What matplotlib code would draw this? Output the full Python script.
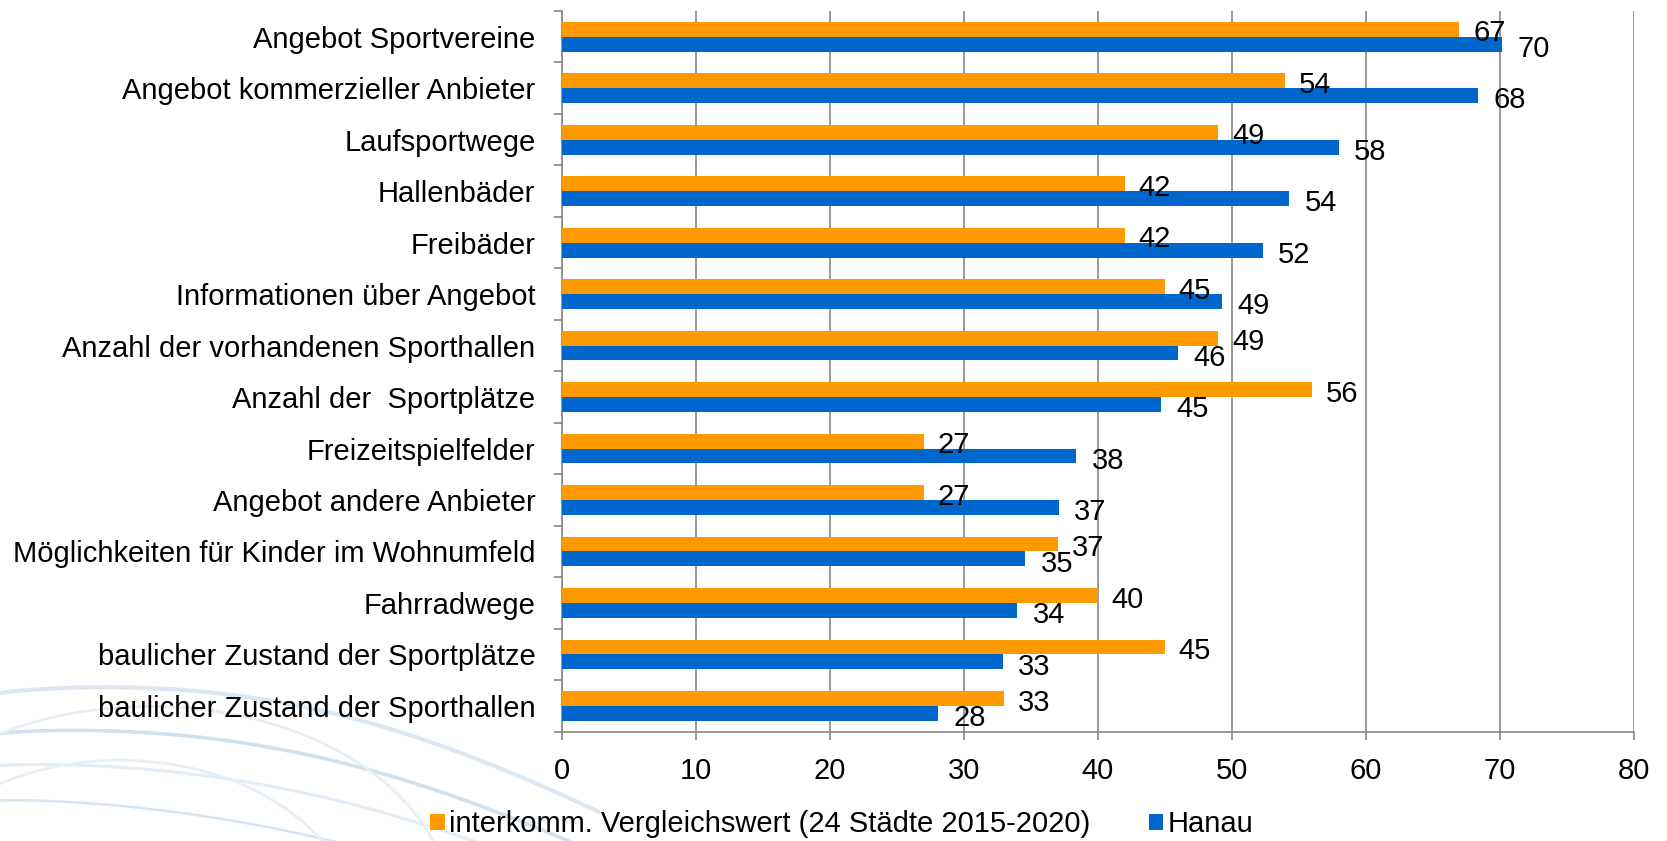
import numpy as np
import matplotlib.pyplot as plt

# Data
categories = [
    "Angebot Sportvereine",
    "Angebot kommerzieller Anbieter",
    "Laufsportwege",
    "Hallenbäder",
    "Freibäder",
    "Informationen über Angebot",
    "Anzahl der vorhandenen Sporthallen",
    "Anzahl der  Sportplätze",
    "Freizeitspielfelder",
    "Angebot andere Anbieter",
    "Möglichkeiten für Kinder im Wohnumfeld",
    "Fahrradwege",
    "baulicher Zustand der Sportplätze",
    "baulicher Zustand der Sporthallen",
]
vergleich = [67, 54, 49, 42, 42, 45, 49, 56, 27, 27, 37, 40, 45, 33]
hanau = [70.2, 68.4, 58, 54.3, 52.3, 49.3, 46, 44.7, 38.4, 37.1, 34.6, 34, 32.9, 28.1]
xticks = [0, 10, 20, 30, 40, 50, 60, 70, 80]
label_vergleich = "interkomm. Vergleichswert (24 Städte 2015-2020)"
label_hanau = "Hanau"

orange = "#FF9900"
blue = "#0066CC"

plt.rcParams["font.family"] = ["Liberation Sans", "DejaVu Sans"]
fs = 21

fig = plt.figure(figsize=(16.67, 8.41), dpi=100)

# faint decorative swooshes in the lower left corner
deco = fig.add_axes([0, 0, 0.36, 0.32], zorder=0)
deco.set_xlim(0, 1)
deco.set_ylim(0, 1)
deco.axis("off")
t = np.linspace(0, 1, 200)
for k, (a, c) in enumerate([(0.55, "#dbe8f3"), (0.45, "#cfe0ef"), (0.38, "#e3edf6"), (0.30, "#d6e5f1")]):
    x = t * 1.1
    y = a - 0.25 * k * 0.2 - 0.55 * t ** 1.3 + 0.25 * np.sin(np.pi * t) * (0.6 - 0.1 * k)
    deco.plot(x, y, color=c, lw=3 - 0.4 * k, solid_capstyle="round")
arc_t = np.linspace(0.2, 3.0, 200)
deco.plot(0.25 + 0.5 * np.cos(arc_t), -0.25 + 0.75 * np.sin(arc_t), color="#e6eff7", lw=2)
deco.plot(0.2 + 0.4 * np.cos(arc_t), -0.35 + 0.65 * np.sin(arc_t), color="#e6eff7", lw=2)

ax = fig.add_axes([0.337, 0.130, 0.643, 0.857], zorder=1)
ax.patch.set_alpha(0)

y = np.arange(len(categories))
h = 0.29
ax.barh(y - h / 2, vergleich, height=h, color=orange, label=label_vergleich, zorder=3)
ax.barh(y + h / 2, hanau, height=h, color=blue, label=label_hanau, zorder=3)

for yi, v in zip(y, vergleich):
    ax.annotate(f"{v:.0f}", (v, yi - h / 2), xytext=(10, -3), textcoords="offset points",
                va="center", ha="left", fontsize=fs, zorder=4)
for yi, v in zip(y, hanau):
    ax.annotate(f"{round(v):d}", (v, yi + h / 2), xytext=(11, -3.5), textcoords="offset points",
                va="center", ha="left", fontsize=fs, zorder=4)

ax.set_xlim(0, 80)
ax.set_ylim(len(categories) - 0.5, -0.5)
ax.set_xticks(xticks)
ax.set_xticklabels([str(v) for v in xticks], fontsize=fs)
ax.set_yticks(y)
ax.set_yticklabels(categories, fontsize=fs)
ax.set_yticks(np.arange(len(categories) + 1) - 0.5, minor=True)
ax.tick_params(axis="y", which="major", length=0, pad=19)
ax.tick_params(axis="y", which="minor", length=6, color="#888888", width=1.2)
ax.tick_params(axis="x", length=6, color="#888888", width=1.2, pad=12)

ax.grid(axis="x", color="#888888", lw=1.2, zorder=0)
for s in ["top", "right"]:
    ax.spines[s].set_visible(False)
for s in ["left", "bottom"]:
    ax.spines[s].set_color("#888888")
    ax.spines[s].set_linewidth(1.2)

fig.legend(loc="lower center", bbox_to_anchor=(0.505, -0.028), ncol=2, frameon=False,
           fontsize=fs, handlelength=0.5, handleheight=0.5, handletextpad=0.15,
           columnspacing=2.0)

fig.savefig("out.png", dpi=100)
